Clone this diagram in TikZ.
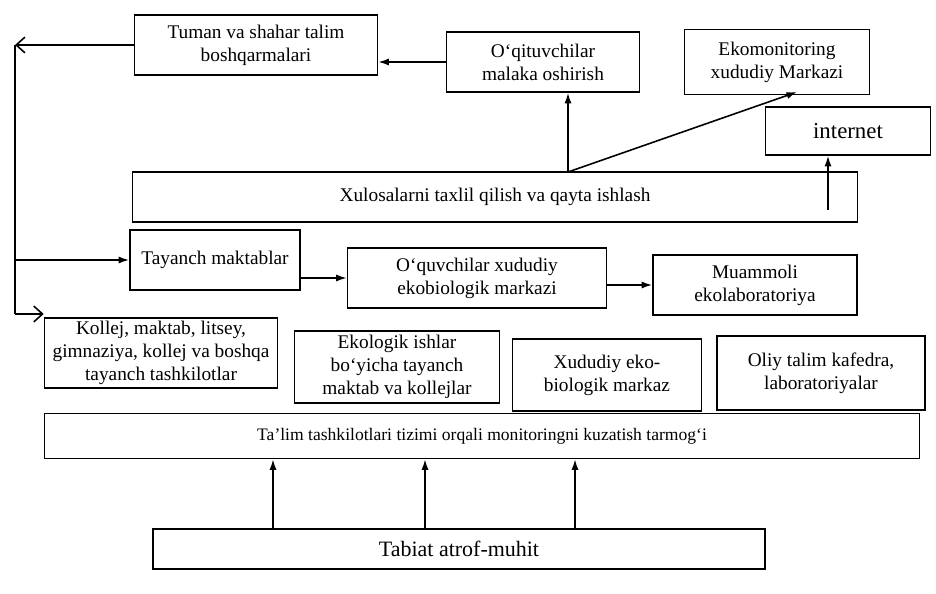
\documentclass[tikz,border=0pt]{standalone}
\usepackage{fontspec}
\setmainfont{Liberation Serif}
\usetikzlibrary{arrows.meta}
\begin{document}
\begin{tikzpicture}[x=0.02cm, y=-0.02cm, line width=0.9pt, >={Latex[length=6pt,width=4pt]},
  box/.style={draw, align=center, inner sep=2pt, minimum height=1.2cm, font=\fontsize{11}{13}\selectfont},
  open tip/.style={-{Straight Barb[length=5pt,width=9pt]}}]%
\useasboundingbox (0,0) rectangle (936,594);
\begin{scope}
\node[box, minimum width=4.86cm] (tum) at (256,45) {Tuman va shahar talim\\boshqarmalari};
\node[box, minimum width=3.86cm] (oqit) at (543,62) {O‘qituvchilar\\malaka oshirish};
\node[box, minimum width=3.7cm, minimum height=1.3cm] (ekomon) at (777,62) {Ekomonitoring\\xududiy Markazi};
\node[box, minimum width=3.3cm, minimum height=0.96cm, font=\fontsize{13}{15}\selectfont] (inet) at (848,131) {internet};
\node[box, minimum width=14.5cm, minimum height=1cm] (xulosa) at (495,197) {Xulosalarni taxlil qilish va qayta ishlash};
\node[box, minimum width=3.4cm] (tayanch) at (215,260) {Tayanch maktablar};
\node[box, minimum width=5.18cm] (oquv) at (477,278) {O‘quvchilar xududiy\\ekobiologik markazi};
\node[box, minimum width=4.08cm] (muammo) at (755,285) {Muammoli\\ekolaboratoriya};
\node[box, minimum width=4.66cm, minimum height=1.4cm] (kollej) at (161,353) {Kollej, maktab, litsey,\\gimnaziya, kollej va boshqa\\tayanch tashkilotlar};
\node[box, minimum width=4.1cm, minimum height=1.44cm] (ekolog) at (397,367) {Ekologik ishlar\\bo‘yicha tayanch\\maktab va kollejlar};
\node[box, minimum width=3.78cm, minimum height=1.44cm] (xudud) at (607,375) {Xududiy eko-\\biologik markaz};
\node[box, minimum width=4.16cm, minimum height=1.48cm] (oliy) at (821,373) {Oliy talim kafedra,\\laboratoriyalar};
\node[box, minimum width=17.5cm, minimum height=0.9cm, font=\fontsize{10}{12}\selectfont] (talim) at (482,436) {Ta’lim tashkilotlari tizimi orqali monitoringni kuzatish tarmog‘i};
\node[box, minimum width=12.24cm, minimum height=0.8cm, font=\fontsize{12.5}{14}\selectfont] (tabiat) at (459,549) {Tabiat atrof-muhit};
\end{scope}
\coordinate (lt) at (15,45);
\coordinate (lb) at (15,314);
\coordinate (xs) at (568,172);
\coordinate (ia) at (828,210);
\begin{scope}[every edge/.style={draw, ->}]
\draw  (oqit.west) edge (oqit.west -| tum.east);
\draw  (xs) edge (xs |- oqit.south);
\draw  (xs) edge (797,92);
\draw  (ia) edge (ia |- inet.south);
\draw  (oquv.west -| tayanch.east) edge (oquv.west);
\draw  (muammo.west -| oquv.east) edge (muammo.west);
\draw  (lb |- tayanch.west) edge (tayanch.west);
\foreach \x in {273,425,575}
  \draw  (tabiat.north -| \x,0) edge (talim.south -| \x,0);
\end{scope}
\draw[open tip] (tum.west) -- (lt);
\draw (lt) -- (lb);
\draw[open tip] (lb) -- (lb -| kollej.west);
\end{tikzpicture}
\end{document}
